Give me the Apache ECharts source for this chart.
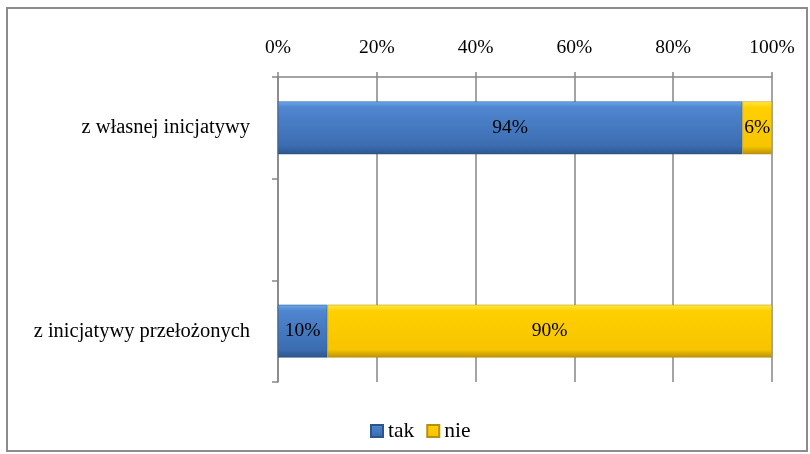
<!DOCTYPE html>
<html><head><meta charset="utf-8">
<script src="https://cdn.jsdelivr.net/npm/echarts@6/dist/echarts.min.js"></script>
<style>html,body{margin:0;padding:0;background:#fff}#c{width:810px;height:454px}</style>
</head><body><div id="c"></div>
<script>
var categories = ['z inicjatywy przełożonych', '', 'z własnej inicjatywy'];
var takValues = [10, null, 94];
var nieValues = [90, null, 6];
var tickLabels = ['0%', '20%', '40%', '60%', '80%', '100%'];
var seriesNames = ['tak', 'nie'];

var font = '"Liberation Serif", "Times New Roman", serif';
var blue = new echarts.graphic.LinearGradient(0, 0, 0, 1, [
  {offset: 0, color: '#6aa5ea'}, {offset: 0.12, color: '#4f86cf'},
  {offset: 0.85, color: '#3b6cb0'}, {offset: 1, color: '#2c5589'}]);
var yellow = new echarts.graphic.LinearGradient(0, 0, 0, 1, [
  {offset: 0, color: '#ffe84a'}, {offset: 0.12, color: '#ffd000'},
  {offset: 0.85, color: '#f7c400'}, {offset: 1, color: '#b8900a'}]);

var chart = echarts.init(document.getElementById('c'));
chart.setOption({
  animation: false,
  backgroundColor: '#fff',
  textStyle: {fontFamily: font},
  graphic: [{type: 'rect', shape: {x: 7, y: 8, width: 800, height: 443},
    style: {fill: 'none', stroke: '#8c8c8c', lineWidth: 2}}],
  grid: {left: 278, right: 38, top: 77, bottom: 72},
  legend: {
    bottom: 7, left: 365, itemWidth: 12, itemHeight: 12, itemGap: 12,
    textStyle: {fontFamily: font, fontSize: 21.5, color: '#000'},
    data: [{name: 'tak', icon: 'rect'}, {name: 'nie', icon: 'rect'}]
  },
  xAxis: {
    type: 'value', position: 'top', min: 0, max: 100, interval: 20,
    axisLine: {show: true, lineStyle: {color: '#868686', width: 1.5}},
    axisTick: {show: true, length: 5, lineStyle: {color: '#868686', width: 1.5}},
    splitLine: {show: true, lineStyle: {color: '#868686', width: 1.5}},
    axisLabel: {margin: 19, fontFamily: font, fontSize: 19.5, color: '#000',
      formatter: function (v) { return tickLabels[Math.round(v / 20)]; }}
  },
  yAxis: {
    type: 'category', data: categories,
    axisLine: {show: true, lineStyle: {color: '#868686', width: 1.5}},
    axisTick: {show: true, length: 6, lineStyle: {color: '#868686', width: 1.5}},
    axisLabel: {margin: 28, fontFamily: font, fontSize: 20.5, color: '#000'}
  },
  series: [
    {name: seriesNames[0], type: 'bar', stack: 's', data: takValues, barWidth: '52%',
      itemStyle: {color: blue, borderColor: '#2c5589', borderWidth: 0.5},
      label: {show: true, position: 'inside', formatter: '{c}%', fontFamily: font, fontSize: 19.5, color: '#000'}},
    {name: seriesNames[1], type: 'bar', stack: 's', data: nieValues, barWidth: '52%',
      itemStyle: {color: yellow, borderColor: '#b8900a', borderWidth: 0.5},
      label: {show: true, position: 'inside', formatter: '{c}%', fontFamily: font, fontSize: 19.5, color: '#000'}}
  ]
});
</script></body></html>
